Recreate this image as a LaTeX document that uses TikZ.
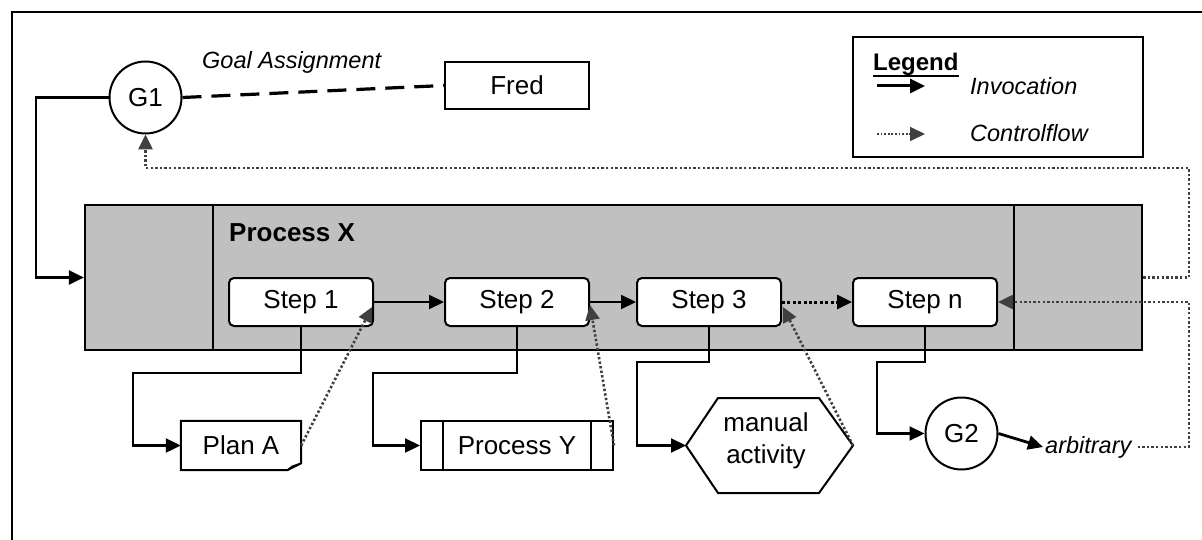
\documentclass[tikz,border=0pt]{standalone}
\usepackage{fontspec}
\setmainfont{Liberation Sans}
\usetikzlibrary{arrows.meta,calc}
\definecolor{pxgray}{HTML}{C0C0C0}
\definecolor{cfgray}{HTML}{404040}
\begin{document}
\begin{tikzpicture}[x=1pt,y=-1pt,
  reg/.style={font=\fontsize{26}{32}\selectfont},
  ital/.style={font=\fontsize{23.5}{28}\selectfont\itshape},
  tipinv/.style={-{Triangle[length=15pt,width=14pt]}},
  inv/.style={line width=2.2pt, tipinv},
  cf/.style={line width=2.6pt, cfgray, dash pattern=on 2.4pt off 2.2pt, -{Triangle[length=15pt,width=14pt]}},
  stepbox/.style={draw, line width=2pt, fill=white, rounded corners=5pt, minimum width=144pt, minimum height=48pt, reg, inner sep=0pt},
  boxline/.style={line width=2pt},
  goalc/.style={circle, draw, line width=2pt, minimum size=72pt, inner sep=0pt, reg, fill=white}
]
\useasboundingbox (0,0) rectangle (1202,540);
% outer frame
\draw[line width=2.6pt] (12,542) -- (12,12) -- (1204,12);

% Process X container
\node[draw, line width=2.2pt, fill=pxgray, minimum width=1057pt, minimum height=145pt, inner sep=0pt] (px) at (613.5,277.5) {};
\draw[boxline] (213,205) -- (213,350);
\draw[boxline] (1014,205) -- (1014,350);
\node[font=\fontsize{26}{30}\selectfont\bfseries, anchor=base west, inner sep=0pt] (pxt) at (229,242) {Process X};

% G1, Fred
\node[goalc] (g1) at (145.5,97.5) {G1};
\node[draw, line width=2pt, minimum width=144pt, minimum height=47pt, reg, inner sep=0pt] (fred) at (517,85.5) {Fred};
\node[ital, anchor=base west, inner sep=0pt] (goal) at (202,69) {Goal Assignment};
\draw[line width=3.2pt, dash pattern=on 19pt off 10pt] (g1.east) -- (fred.west);

% Legend
\node[draw, line width=2pt, minimum width=290pt, minimum height=120pt, inner sep=0pt] (leg) at (998,97) {};
\node[font=\fontsize{24}{28}\selectfont\bfseries, anchor=base west, inner sep=0pt] (legt) at (873,71) {Legend};
\draw[line width=2.8pt] ($(legt.base west)+(0,5)$) -- ($(legt.base east)+(0,5)$);
\coordinate (ia) at (877,86);
\coordinate (ib) at (925,86);
\draw[inv, line width=3pt] (ia) -- (ib);
\node[ital, anchor=west, inner sep=0pt] (invt) at (970,86) {Invocation};
\coordinate (ca) at (877,134);
\coordinate (cb) at (925,134);
\draw[cf, line width=1.8pt, dash pattern=on 1.8pt off 1.8pt] (ca) -- (cb);
\node[ital, anchor=west, inner sep=0pt] (cft) at (970,133) {Controlflow};

% Steps
\node[stepbox] (s1) at (301,302) {Step 1};
\node[stepbox] (s2) at (517,302) {Step 2};
\node[stepbox] (s3) at (709,302) {Step 3};
\node[stepbox] (sn) at (925,302) {Step n};

% Plan A (document shape)
\node[minimum width=120pt, minimum height=49pt, reg, inner sep=0pt] (plan) at (241,445.5) {Plan A};
\draw[boxline] (plan.north west) -- (plan.north east) -- ($(plan.south east)+(0,-7)$) -- ($(plan.south east)+(-14,0)$) -- (plan.south west) -- cycle;
\draw[line width=1.4pt] ($(plan.south east)+(0,-7)$) -- ($(plan.south east)+(-9,-4)$) -- ($(plan.south east)+(-14,0)$);

% Process Y (predefined process)
\node[draw, line width=2pt, minimum width=192pt, minimum height=49pt, reg, inner sep=0pt] (py) at (517,445.5) {Process Y};
\draw[boxline] ($(py.north west)+(23,0)$) -- ($(py.south west)+(23,0)$);
\draw[boxline] ($(py.north east)+(-23,0)$) -- ($(py.south east)+(-23,0)$);

% manual activity (hexagon)
\coordinate (hl) at (686,445.5);
\coordinate (hr) at (853,445.5);
\draw[boxline] (hl) -- (718,398) -- (819,398) -- (hr) -- (819,493) -- (718,493) -- cycle;
\node[reg, align=center, inner sep=0pt] (man) at (766,441) {manual\\activity};

% G2 and arbitrary
\node[goalc] (g2) at (961.5,433.5) {G2};
\node[ital, anchor=west, inner sep=2pt] (arb) at (1043,447) {arbitrary};

% invocation connectors
\draw[inv] (g1.west) -- ++(-72.5,0) |- (px.west);
\draw[inv] (s1.east) -- (s2.west);
\draw[inv] (s2.east) -- (s3.west);
\draw[line width=3pt, dash pattern=on 3pt off 2.4pt, tipinv] (s3.east) -- (sn.west);
\draw[inv] (s1.south) |- (133,373) |- (plan.west);
\draw[inv] (s2.south) |- (373,373) |- (py.west);
\draw[inv] (s3.south) |- (637,362) |- (hl);
\draw[inv] (sn.south) |- (877,362) |- (g2.west);
\draw[inv, line width=2.8pt] (g2.east) -- (arb.west);

% control flow connectors
\draw[cf] (px.east) -| (1189,168) -| (g1.south);
\draw[cf, shorten <=4pt] (arb.east) -| (1189,302) -- (sn.east);
\draw[cf] (plan.east) -- ($(s1.east)+(-2,5)$);
\draw[cf] (py.east) -- ($(s2.east)+(0,3)$);
\draw[cf] (hr) -- ($(s3.east)+(1,5)$);
\end{tikzpicture}
\end{document}
